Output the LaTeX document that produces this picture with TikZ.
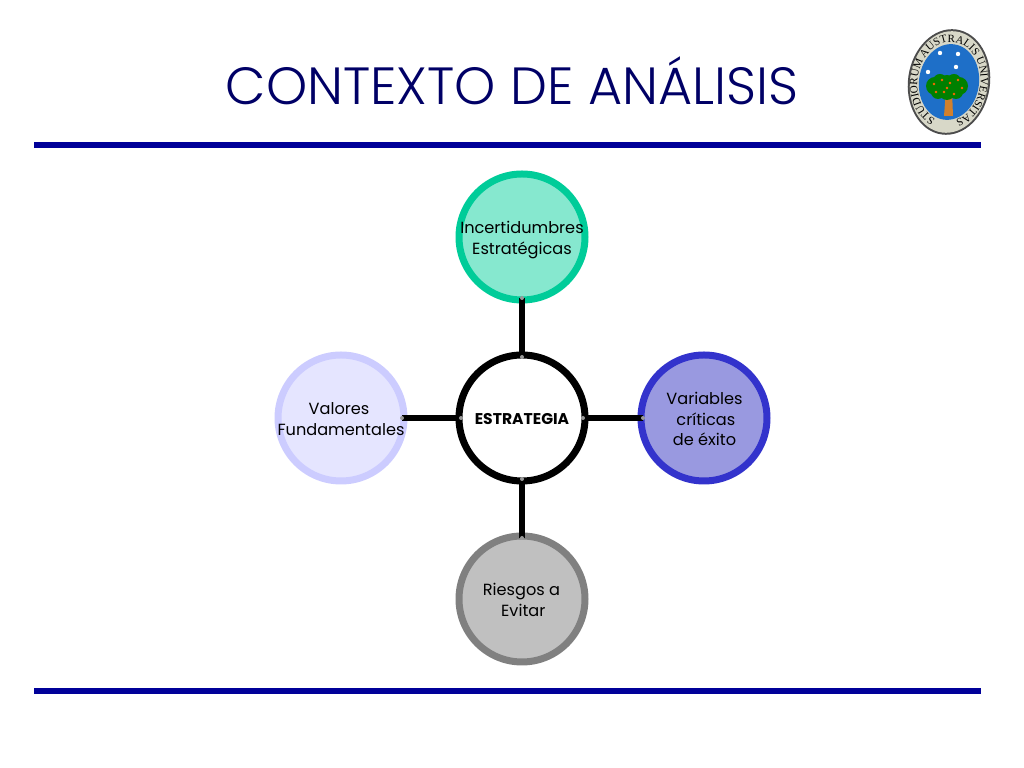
\documentclass[tikz,border=0pt]{standalone}
\usepackage{fontspec}
\setmainfont{Poppins}
\newfontfamily\titlefont{Poppins Light}
\newfontfamily\sealfont{Liberation Serif}
\usetikzlibrary{decorations.text}
\definecolor{barblue}{HTML}{000099}
\definecolor{titleblue}{HTML}{000066}
\definecolor{sealblue}{HTML}{1E6FC8}
\definecolor{sealring}{HTML}{D8D8C8}
\definecolor{greenring}{HTML}{00CC99}
\definecolor{greenfill}{HTML}{86E8CF}
\definecolor{bluering}{HTML}{3333CC}
\definecolor{bluefill}{HTML}{9999E0}
\definecolor{grayring}{HTML}{808080}
\definecolor{grayfill}{HTML}{C0C0C0}
\definecolor{lilacring}{HTML}{CCCCFF}
\definecolor{lilacfill}{HTML}{E5E5FF}
\tikzset{
  petal/.style={circle,minimum size=1.26cm,inner sep=0pt,outer sep=-0.02cm,line width=0.07cm},
  petaltext/.style={align=center,inner sep=0pt,font=\fontsize{4.6pt}{5.95pt}\selectfont,text=black},
  link/.style={line width=0.06cm,black},
  hook/.style={fill=gray!80,draw=none},
  bar/.style={fill=barblue,draw=none}
}
\begin{document}
\begin{tikzpicture}
\useasboundingbox (0,0) rectangle (10.24,7.68);
% title and rules
\node[text=titleblue,font=\titlefont\fontsize{14.9pt}{17pt}\selectfont] (title) at (5.12,6.87) {CONTEXTO DE ANÁLISIS};
\fill[bar] (0.34,6.2) rectangle (9.81,6.26);
\fill[bar] (0.34,0.74) rectangle (9.81,0.8);
% circles
\node[petal,draw=black,fill=white] (core) at (5.22,3.5) {};
\node[petal,draw=greenring,fill=greenfill] (incert) at (5.22,5.31) {};
\node[petal,draw=bluering,fill=bluefill] (variab) at (7.04,3.5) {};
\node[petal,draw=grayring,fill=grayfill] (riesgo) at (5.22,1.69) {};
\node[petal,draw=lilacring,fill=lilacfill] (valor) at (3.41,3.5) {};
% connectors
\draw[link] (core.north) -- (incert.south);
\draw[link] (core.east) -- (variab.west);
\draw[link] (core.south) -- (riesgo.north);
\draw[link] (core.west) -- (valor.east);
\foreach \spot in {core.north,incert.south,core.east,variab.west,core.south,riesgo.north,core.west,valor.east}
  \fill[hook] (\spot) circle (0.02);
% texts
\node[petaltext,font=\fontsize{4.43pt}{5pt}\selectfont\bfseries] (coretext) at (5.22,3.49) {ESTRATEGIA};
\node[petaltext] (incerttext) at (5.22,5.28) {Incertidumbres\\Estratégicas};
\node[petaltext] (variabtext) at (7.045,3.49) {Variables\\\hspace*{0.8pt}críticas\\de éxito};
\node[petaltext] (riesgotext) at (5.215,1.68) {Riesgos a\\\hspace*{1pt}Evitar};
\node[petaltext] (valortext) at (3.41,3.49) {Valores\hspace*{1.1pt}\\Fundamentales};
% seal
\begin{scope}[shift={(9.49,6.86)},rotate=-8]
\fill[gray!60!black] (0,0) ellipse (0.41 and 0.53);
\fill[sealring] (0,0) ellipse (0.39 and 0.51);
\fill[sealblue] (0,0) ellipse (0.30 and 0.38);
\path[postaction={decorate,decoration={text along path,
  text={|\sealfont\fontsize{3.15pt}{4pt}\selectfont|STUDIORUM AUSTRALIS UNIVERSITAS}}}]
  (255:0.315 and 0.40) arc[start angle=255,end angle=-75,x radius=0.315,y radius=0.40];
\end{scope}
\fill[brown!70!orange] (9.44,6.52) -- (9.46,6.78) -- (9.52,6.78) -- (9.53,6.52) -- cycle;
\foreach \lx/\ly/\lr in {9.47/6.82/0.11,9.35/6.82/0.09,9.59/6.82/0.09,9.40/6.87/0.07,9.54/6.87/0.07,9.47/6.76/0.08,9.38/6.76/0.07,9.56/6.76/0.07}
  \fill[green!50!black] (\lx,\ly) circle (\lr);
\foreach \lx/\ly in {9.34/6.84,9.42/6.88,9.5/6.85,9.58/6.88,9.62/6.8,9.44/6.76,9.54/6.74,9.36/6.76,9.47/6.8}
  \fill[orange!80!red] (\lx,\ly) circle (0.014);
\foreach \sx/\sy in {9.40/7.15,9.58/7.14,9.56/7.01,9.28/6.96}
  \fill[white] (\sx,\sy) circle (0.022);
\end{tikzpicture}
\end{document}
